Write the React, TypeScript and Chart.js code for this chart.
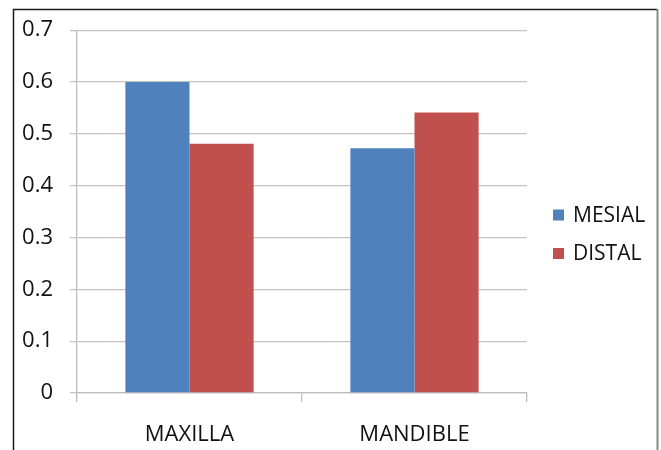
import React, { useEffect, useRef } from "react";
import { Chart, registerables } from "chart.js";

Chart.register(...registerables);

const categories = ["MAXILLA", "MANDIBLE"];
const seriesNames = ["MESIAL", "DISTAL"];
const mesialValues = [0.6, 0.472];
const distalValues = [0.481, 0.541];
const seriesColors = ["#4F81BD", "#C0504D"];

const FONT = "'Open Sans', sans-serif";

const framePlugin = {
  id: "frame",
  afterDraw(chart: any) {
    const ctx = chart.ctx;
    ctx.save();
    ctx.strokeStyle = "#1a1a1a";
    ctx.lineWidth = 1.5;
    ctx.beginPath();
    ctx.moveTo(13.5, 450);
    ctx.lineTo(13.5, 9.5);
    ctx.lineTo(657, 9.5);
    ctx.stroke();
    ctx.strokeStyle = "#8a8a8a";
    ctx.lineWidth = 2;
    ctx.beginPath();
    ctx.moveTo(657.5, 9);
    ctx.lineTo(657.5, 450);
    ctx.stroke();
    ctx.restore();
  },
};

const legendPlugin = {
  id: "sideLegend",
  afterDraw(chart: any) {
    const ctx = chart.ctx;
    ctx.save();
    ctx.font = `21px ${FONT}`;
    ctx.textBaseline = "middle";
    const startY = 215;
    const gap = 38.5;
    chart.data.datasets.forEach((ds: any, i: number) => {
      const cy = startY + i * gap;
      ctx.fillStyle = ds.backgroundColor;
      ctx.fillRect(553, cy - 5.5, 11, 11);
      ctx.fillStyle = "#111";
      ctx.fillText(ds.label, 573, cy + 1);
    });
    ctx.restore();
  },
};

export default function App() {
  const ref = useRef<HTMLCanvasElement>(null);
  useEffect(() => {
    if (!ref.current) return;
    const chart = new Chart(ref.current, {
      type: "bar",
      data: {
        labels: categories,
        datasets: [
          {
            label: seriesNames[0],
            data: mesialValues,
            backgroundColor: seriesColors[0],
            categoryPercentage: 0.57,
            barPercentage: 1,
          },
          {
            label: seriesNames[1],
            data: distalValues,
            backgroundColor: seriesColors[1],
            categoryPercentage: 0.57,
            barPercentage: 1,
          },
        ],
      },
      options: {
        animation: false,
        responsive: false,
        events: [],
        layout: { padding: { top: 29, right: 134, left: 0, bottom: 0 } },
        plugins: {
          legend: { display: false },
          tooltip: { enabled: false },
        },
        scales: {
          x: {
            grid: {
              offset: true,
              drawOnChartArea: false,
              drawTicks: true,
              tickLength: 9,
              color: "#bdbdbd",
              lineWidth: 1.3,
            },
            border: { color: "#bdbdbd", width: 1.3 },
            ticks: {
              color: "#111",
              font: { family: FONT, size: 22 },
              padding: 20,
            },
            afterFit(scale: any) {
              scale.height = 57;
            },
          },
          y: {
            min: 0,
            max: 0.7,
            ticks: {
              stepSize: 0.1,
              color: "#111",
              font: { family: FONT, size: 22 },
              padding: 17,
              callback: (v: any) => String(Math.round(Number(v) * 10) / 10),
            },
            grid: {
              color: "#c4c4c4",
              lineWidth: 1.3,
              tickLength: 7,
            },
            border: { color: "#bdbdbd", width: 1.3 },
            afterFit(scale: any) {
              scale.width = 77;
            },
          },
        },
      },
      plugins: [framePlugin, legendPlugin],
    });
    return () => chart.destroy();
  }, []);
  return (
    <div style={{ position: "absolute", left: 0, top: 0, width: 661, height: 450, background: "#fff" }}>
      <canvas ref={ref} width={661} height={450} style={{ display: "block" }} />
    </div>
  );
}
